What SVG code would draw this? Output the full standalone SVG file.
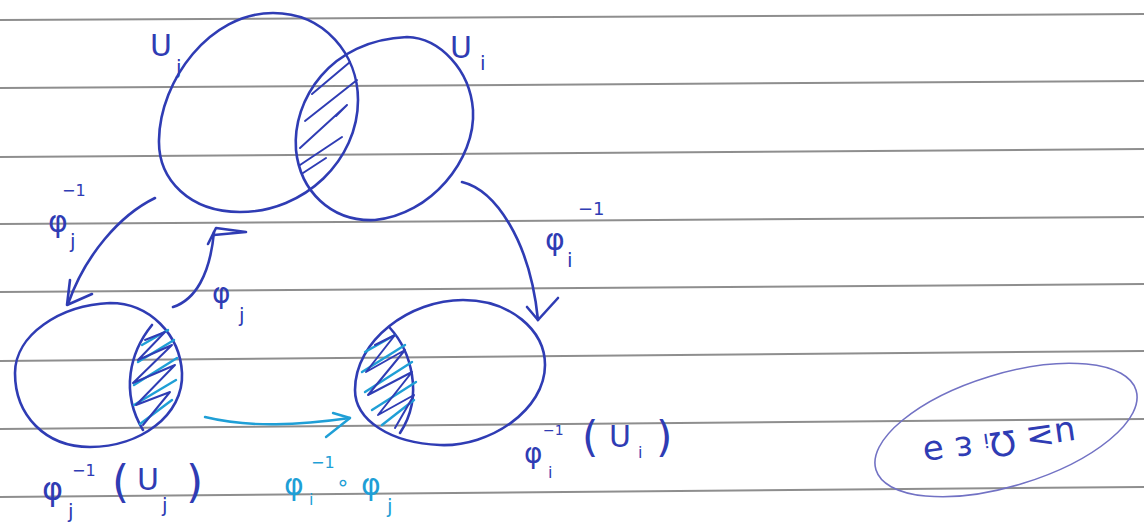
<svg xmlns="http://www.w3.org/2000/svg" width="1144" height="528" viewBox="0 0 1144 528">
<defs>
<style>
.rule{stroke:#8e8e8e;stroke-width:2;fill:none}
.ink{stroke:#2f3cb4;stroke-width:2.6;fill:none;stroke-linecap:round;stroke-linejoin:round}
.teal{stroke:#1f9fd6;stroke-width:2.4;fill:none;stroke-linecap:round;stroke-linejoin:round}
.hatch{stroke:#2f3cb4;stroke-width:2;fill:none;stroke-linecap:round;stroke-linejoin:round}
.t{font-family:"DejaVu Sans",sans-serif;fill:#2f3cb4}
.tt{font-family:"DejaVu Sans",sans-serif;fill:#1f9fd6}
</style>
</defs>
<rect width="1144" height="528" fill="#ffffff"/>
<g id="paper-lines">
<line class="rule" x1="0" y1="20" x2="1144" y2="14"/>
<line class="rule" x1="0" y1="88" x2="1144" y2="81"/>
<line class="rule" x1="0" y1="157" x2="1144" y2="149"/>
<line class="rule" x1="0" y1="224" x2="1144" y2="217"/>
<line class="rule" x1="0" y1="292" x2="1144" y2="284"/>
<line class="rule" x1="0" y1="361" x2="1144" y2="351"/>
<line class="rule" x1="0" y1="429" x2="1144" y2="419"/>
<line class="rule" x1="0" y1="497" x2="1144" y2="487"/>
</g>
<g id="node-Uj">
<path class="ink" d="M273,13 C325,13 358,55 358,100 C358,160 305,212 240,212 C190,212 158,180 159,140 C160,80 210,13 273,13 Z"/>
<text class="t" x="150" y="56" font-size="30">U</text>
<text class="t" x="176" y="74" font-size="20">j</text>
</g>
<g id="node-Ui">
<path class="ink" d="M407,37 C440,38 470,70 473,110 C476,160 430,215 375,220 C330,222 300,190 296,150 C292,100 330,40 407,37 Z"/>
<text class="t" x="450" y="58" font-size="30">U</text>
<text class="t" x="480" y="70" font-size="20">i</text>
<path class="hatch" d="M312,94 L350,62 M305,121 L357,80 M300,148 L347,105 L336,116 M300,165 L342,137 M303,173 L326,158"/>
</g>
<g id="node-phij-inv-Uj">
<path class="ink" d="M110,303 C150,303 180,335 182,373 C184,415 140,447 90,447 C45,447 15,415 15,373 C15,335 60,305 110,303 Z"/>
<path class="ink" d="M152,325 C130,352 120,392 143,430"/>
<path class="teal" d="M142,345 L168,330 M138,362 L174,340 M134,385 L177,358 M134,405 L176,380 M140,424 L172,400"/>
<path class="hatch" d="M145,340 L165,332 L138,360 L172,345 L133,383 L175,365 L136,405 L170,392 L143,425"/>
<text class="t" x="42" y="500" font-size="32">φ</text>
<text class="t" x="72" y="476" font-size="16">−1</text>
<text class="t" x="68" y="518" font-size="20">j</text>
<text class="t" x="112" y="497" font-size="44">(</text>
<text class="t" x="137" y="490" font-size="30">U</text>
<text class="t" x="162" y="512" font-size="20">j</text>
<text class="t" x="186" y="497" font-size="44">)</text>
</g>
<g id="node-phii-inv-Ui">
<path class="ink" d="M463,300 C510,300 545,330 545,365 C545,410 490,447 440,445 C390,443 355,420 355,390 C355,340 410,300 463,300 Z"/>
<path class="ink" d="M390,328 C410,350 425,395 400,433"/>
<path class="teal" d="M365,352 L395,335 M362,372 L405,345 M365,392 L412,362 M372,410 L416,382 M382,425 L414,400"/>
<path class="hatch" d="M375,345 L395,335 L366,372 L405,350 L368,395 L412,372 L378,415 L414,395 L395,428"/>
<text class="t" x="524" y="463" font-size="28">φ</text>
<text class="t" x="543" y="435" font-size="14">−1</text>
<text class="t" x="548" y="478" font-size="16">i</text>
<text class="t" x="582" y="452" font-size="42">(</text>
<text class="t" x="609" y="447" font-size="30">U</text>
<text class="t" x="638" y="458" font-size="16">i</text>
<text class="t" x="656" y="452" font-size="42">)</text>
</g>
<g id="node-note">
<ellipse cx="1006" cy="430" rx="136" ry="56" transform="rotate(-17 1006 430)" fill="none" stroke="#7272c4" stroke-width="1.6"/>
<text class="t" font-size="34" text-anchor="middle" transform="translate(998 432) rotate(172)">u≥ Ωᵢ ε ə</text>
</g>
<g id="connectors">
<path class="ink" d="M155,198 C120,215 85,255 68,304"/>
<path class="ink" d="M70,280 L67,305 L92,294"/>
<path class="ink" d="M173,307 C195,300 210,275 214,232"/>
<path class="ink" d="M208,244 L216,228 L246,232 L214,235"/>
<path class="ink" d="M462,182 C495,190 530,240 538,320"/>
<path class="ink" d="M527,307 L538,320 L558,298"/>
<path class="teal" d="M205,417 C250,428 300,425 350,418"/>
<path class="teal" d="M333,413 L350,418 L326,437"/>
<text class="t" x="48" y="232" font-size="30">φ</text>
<text class="t" x="62" y="196" font-size="16">−1</text>
<text class="t" x="70" y="248" font-size="20">j</text>
<text class="t" x="212" y="303" font-size="28">φ</text>
<text class="t" x="239" y="322" font-size="20">j</text>
<text class="t" x="545" y="250" font-size="30">φ</text>
<text class="t" x="578" y="215" font-size="18">−1</text>
<text class="t" x="567" y="267" font-size="20">i</text>
<text class="tt" x="284" y="495" font-size="30">φ</text>
<text class="tt" x="311" y="468" font-size="16">−1</text>
<text class="tt" x="309" y="505" font-size="16">i</text>
<text class="tt" x="336" y="490" font-size="22">∘</text>
<text class="tt" x="361" y="495" font-size="30">φ</text>
<text class="tt" x="387" y="513" font-size="20">j</text>
</g>
</svg>
